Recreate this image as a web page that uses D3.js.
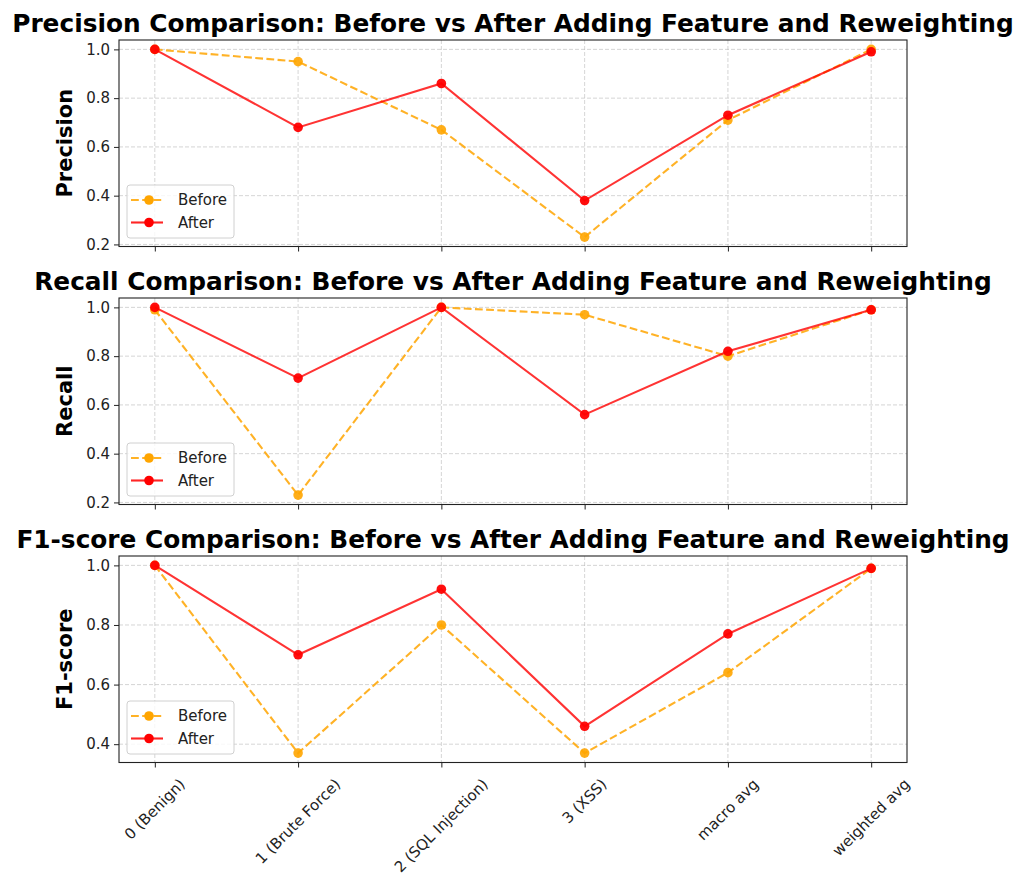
<!DOCTYPE html>
<html>
<head>
<meta charset="utf-8">
<script src="https://cdn.jsdelivr.net/npm/d3@7"></script>
<style>
  body { margin: 0; background: #fff; }
  svg { font-family: "DejaVu Sans", sans-serif; }
</style>
</head>
<body>
<svg class="main"></svg>
<script>
// categories on the x axis
const categories = ['0 (Benign)', '1 (Brute Force)', '2 (SQL Injection)', '3 (XSS)', 'macro avg', 'weighted avg'];

// values
const precisionBefore = [1.00, 0.95, 0.67, 0.23, 0.71, 1.00];
const precisionAfter  = [1.00, 0.68, 0.86, 0.38, 0.73, 0.99];
const recallBefore    = [0.99, 0.23, 1.00, 0.97, 0.80, 0.99];
const recallAfter     = [1.00, 0.71, 1.00, 0.56, 0.82, 0.99];
const f1Before        = [1.00, 0.37, 0.80, 0.37, 0.64, 0.99];
const f1After         = [1.00, 0.70, 0.92, 0.46, 0.77, 0.99];

const precisionTicks = [0.2, 0.4, 0.6, 0.8, 1.0];
const recallTicks    = [0.2, 0.4, 0.6, 0.8, 1.0];
const f1Ticks        = [0.4, 0.6, 0.8, 1.0];

const panels = [
  {metric: 'Precision', before: precisionBefore, after: precisionAfter, ticks: precisionTicks},
  {metric: 'Recall',    before: recallBefore,    after: recallAfter,    ticks: recallTicks},
  {metric: 'F1-score',  before: f1Before,        after: f1After,        ticks: f1Ticks}
];

const W = 1018, H = 876;
const left = 119, right = 907;
const tops = [40, 298, 556];
const ph = 206.5;
const fs = 15;

const svg = d3.select('.main').attr('width', W).attr('height', H);

let x = d3.scaleLinear()
  .domain([-0.25, categories.length - 1 + 0.25])
  .range([left, right]);

panels.forEach((p, pi) => {
  let top = tops[pi];
  let all = p.before.concat(p.after);
  let lo = d3.min(all), hi = d3.max(all), m = (hi - lo) * 0.05;
  let y = d3.scaleLinear().domain([lo - m, hi + m]).range([top + ph, top]);

  let g = svg.append('g');

  // grid
  g.selectAll('line.gy').data(p.ticks).enter().append('line')
    .attr('x1', left).attr('x2', right)
    .attr('y1', d => y(d)).attr('y2', d => y(d))
    .attr('stroke', '#b0b0b0').attr('stroke-opacity', 0.6)
    .attr('stroke-width', 0.9).attr('stroke-dasharray', '4,2');
  g.selectAll('line.gx').data(categories).enter().append('line')
    .attr('x1', (d, i) => x(i)).attr('x2', (d, i) => x(i))
    .attr('y1', top).attr('y2', top + ph)
    .attr('stroke', '#b0b0b0').attr('stroke-opacity', 0.6)
    .attr('stroke-width', 0.9).attr('stroke-dasharray', '4,2');

  // axes
  let yAxis = g.append('g')
    .attr('transform', `translate(${left},0)`)
    .call(d3.axisLeft(y).tickValues(p.ticks).tickFormat(d3.format('.1f')).tickSizeOuter(0).tickSize(5).tickPadding(4));
  yAxis.select('.domain').remove();
  yAxis.selectAll('text').attr('font-size', fs).attr('fill', '#222').attr('font-family', '"DejaVu Sans"');
  yAxis.selectAll('line').attr('stroke', '#222');

  let xAxis = g.append('g')
    .attr('transform', `translate(0,${top + ph})`)
    .call(d3.axisBottom(x).tickValues(d3.range(categories.length)).tickFormat('').tickSizeOuter(0).tickSize(5));
  xAxis.select('.domain').remove();
  xAxis.selectAll('line').attr('stroke', '#222');

  // frame
  g.append('rect')
    .attr('x', left).attr('y', top).attr('width', right - left).attr('height', ph)
    .attr('fill', 'none').attr('stroke', '#222').attr('stroke-width', 1.1);

  // lines
  let line = d3.line().x((d, i) => x(i)).y(d => y(d));
  g.append('path').datum(p.before).attr('d', line)
    .attr('fill', 'none').attr('stroke', 'orange').attr('stroke-width', 2.1)
    .attr('stroke-dasharray', '7.8,3.4').attr('opacity', 0.85);
  g.selectAll('circle.b').data(p.before).enter().append('circle')
    .attr('cx', (d, i) => x(i)).attr('cy', d => y(d)).attr('r', 4.8)
    .attr('fill', 'orange').attr('opacity', 0.9);
  g.append('path').datum(p.after).attr('d', line)
    .attr('fill', 'none').attr('stroke', 'red').attr('stroke-width', 2.1).attr('opacity', 0.8);
  g.selectAll('circle.a').data(p.after).enter().append('circle')
    .attr('cx', (d, i) => x(i)).attr('cy', d => y(d)).attr('r', 4.8)
    .attr('fill', 'red').attr('opacity', 0.95);

  // title
  svg.append('text')
    .attr('x', (left + right) / 2).attr('y', top - 8.4)
    .attr('text-anchor', 'middle').attr('font-size', 24.8).attr('font-weight', 'bold')
    .attr('fill', '#000')
    .text(`${p.metric} Comparison: Before vs After Adding Feature and Reweighting`);

  // y label
  svg.append('text')
    .attr('transform', `translate(65,${top + ph / 2}) rotate(-90)`)
    .attr('text-anchor', 'middle').attr('dominant-baseline', 'central')
    .attr('font-size', 21).attr('font-weight', 'bold').attr('fill', '#000')
    .text(p.metric);

  // legend
  let lg = g.append('g').attr('transform', `translate(127,${top + ph - 61.5})`);
  lg.append('rect').attr('width', 107).attr('height', 53).attr('rx', 3)
    .attr('fill', '#fff').attr('fill-opacity', 0.8).attr('stroke', '#d0d0d0');
  let items = [
    {name: 'Before', color: 'orange', dash: '7.8,3.4'},
    {name: 'After', color: 'red', dash: null}
  ];
  items.forEach((it, k) => {
    let yy = 15 + k * 22.5;
    lg.append('line').attr('x1', 4).attr('x2', 36).attr('y1', yy).attr('y2', yy)
      .attr('stroke', it.color).attr('stroke-width', 2.1)
      .attr('stroke-dasharray', it.dash).attr('opacity', 0.85);
    lg.append('circle').attr('cx', 22).attr('cy', yy).attr('r', 4.8).attr('fill', it.color);
    lg.append('text').attr('x', 51).attr('y', yy).attr('dominant-baseline', 'central')
      .attr('font-size', fs).attr('fill', '#222').text(it.name);
  });

  // rotated category labels only on the last panel
  if (pi === panels.length - 1) {
    let lab = g.selectAll('text.cat').data(categories).enter().append('text')
      .attr('class', 'cat')
      .attr('font-size', fs).attr('fill', '#222')
      .attr('text-anchor', 'middle').attr('dominant-baseline', 'central')
      .text(d => d);
    lab.each(function(d, i) {
      let w = this.getComputedTextLength();
      let hgt = fs * 1.15;
      let half = 0.7071 * (w + hgt) / 2;
      let cy = top + ph + 13 + half;
      d3.select(this).attr('transform', `translate(${x(i)},${cy}) rotate(-45)`);
    });
  }
});
</script>
</body>
</html>
